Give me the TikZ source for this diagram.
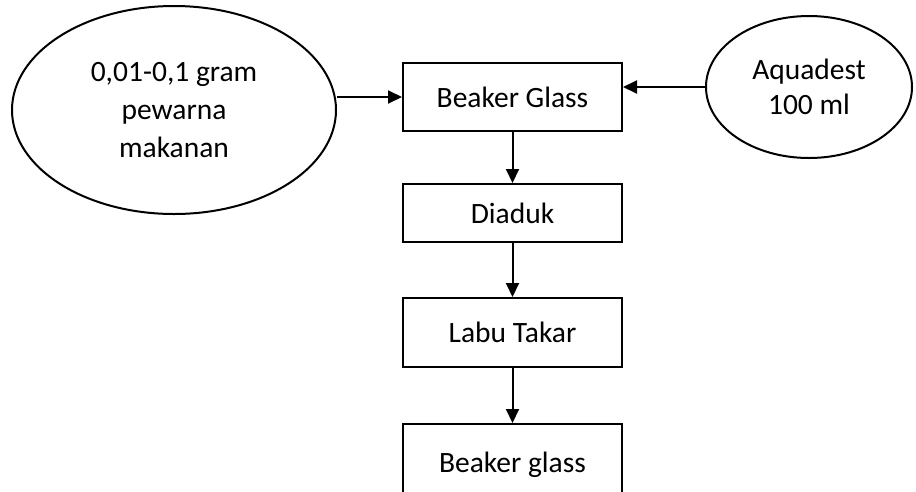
\documentclass[tikz,border=0pt]{standalone}
\usepackage{fontspec}
\setmainfont{Carlito}
\usetikzlibrary{shapes.geometric,arrows.meta}
\tikzset{
  box/.style={draw, line width=2pt, rectangle, inner sep=0pt, minimum width=219pt, align=center},
  oval/.style={draw, line width=2pt, ellipse, inner sep=0pt, align=center},
  arr/.style={line width=2pt, -{Triangle[length=14pt,width=13pt]}},
}
\begin{document}
\begin{tikzpicture}[x=1pt,y=-1pt, every node/.style={font=\fontsize{29.5}{38}\selectfont}]
\clip (0,0) rectangle (916,491);
\fill[white] (0,0) rectangle (916,491);
\node[oval, minimum width=324pt, minimum height=208pt] (L) at (174,110) {0,01-0,1 gram\\pewarna\\makanan};
\node[oval, minimum width=206pt, minimum height=142pt, font=\fontsize{29.5}{35}\selectfont] (R) at (809,87) {Aquadest\\100 ml};
\node[box, minimum height=68pt] (B1) at (512.5,97) {Beaker Glass};
\node[box, minimum height=58pt] (B2) at (512.5,213) {Diaduk};
\node[box, minimum height=69pt] (B3) at (512.5,332.5) {Labu Takar};
\node[box, minimum height=76pt, text depth=0pt] (B4) at (512.5,462) {Beaker glass};
\draw[arr] (L.east |- B1.west) -- (B1.west);
\draw[arr] (R.west) -- (B1.east |- R.west);
\draw[arr] (B1.south) -- (B2.north);
\draw[arr] (B2.south) -- (B3.north);
\draw[arr] (B3.south) -- (B4.north);
\end{tikzpicture}
\end{document}
